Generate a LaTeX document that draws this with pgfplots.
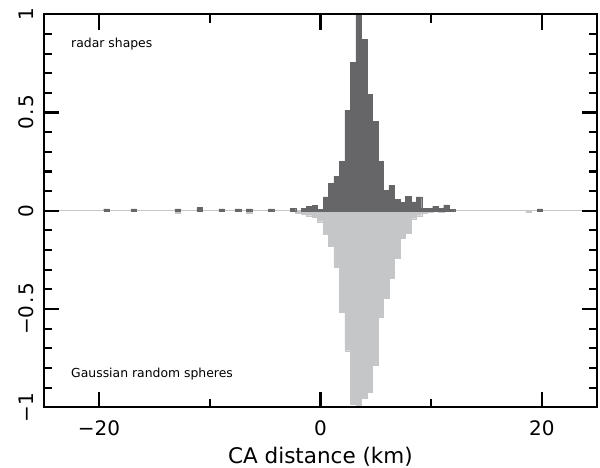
\documentclass[border=0pt]{standalone}
\usepackage{pgfplots}
\pgfplotsset{compat=1.18}
\usepackage{pgfplotstable}
\usepackage{fontspec}
\setmainfont{DejaVu Sans}
\definecolor{darkbar}{RGB}{102,102,104}
\definecolor{lightbar}{RGB}{197,198,200}
% radar shapes (upper histogram), bin centres in km, normalised counts
\pgfplotstableread{
x y
-19.34 0.010
-16.86 0.010
-12.90 0.010
-10.92 0.017
-8.93 0.010
-7.45 0.010
-6.46 0.010
-4.47 0.010
-2.49 0.014
-1.50 0.014
-1.01 0.022
-0.51 0.028
-0.02 0.009
0.48 0.071
0.98 0.140
1.47 0.177
1.97 0.253
2.46 0.512
2.96 0.755
3.45 1.050
3.95 0.874
4.44 0.592
4.94 0.456
5.44 0.253
5.93 0.105
6.43 0.131
6.92 0.059
7.42 0.042
7.91 0.075
8.41 0.045
8.90 0.071
9.40 0.014
9.90 0.012
10.39 0.024
10.89 0.014
11.38 0.030
11.88 0.008
19.81 0.010
}\radar
% Gaussian random spheres (lower histogram, plotted negative)
\pgfplotstableread{
x y
-12.90 -0.010
-6.46 -0.010
-2.00 -0.012
-1.50 -0.017
-1.01 -0.025
-0.51 -0.032
-0.02 -0.055
0.48 -0.119
0.98 -0.180
1.47 -0.288
1.97 -0.516
2.46 -0.712
2.96 -0.984
3.45 -1.050
3.95 -0.952
4.44 -0.921
4.94 -0.786
5.44 -0.543
5.93 -0.445
6.43 -0.341
6.92 -0.239
7.42 -0.139
7.91 -0.114
8.41 -0.040
8.90 -0.025
9.40 -0.012
9.90 -0.006
10.39 -0.004
10.89 -0.009
11.38 -0.003
18.81 -0.008
}\gauss
\begin{document}
\begin{tikzpicture}
\begin{axis}[
  scale only axis, width=553.5bp, height=393bp,
  xmin=-25, xmax=25, ymin=-1, ymax=1,
  axis on top,
  axis line style={line width=2.2bp},
  every tick/.style={black, line width=2.1bp},
  tick align=inside,
  major tick length=15.5bp, minor tick length=8.5bp,
  xtick={-20,0,20}, xticklabels={−20,0,20},
  minor xtick={-10,10},
  ytick={-1,-0.5,0,0.5,1},
  yticklabels={−1,−0\kern1.5bp.\kern1.5bp5,0,0\kern1.5bp.\kern1.5bp5,1},
  minor ytick={-0.9,-0.8,-0.7,-0.6,-0.4,-0.3,-0.2,-0.1,0.1,0.2,0.3,0.4,0.6,0.7,0.8,0.9},
  tick label style={font=\fontsize{20bp}{24bp}\selectfont},
  xticklabel style={anchor=base}, xticklabel shift=28.4bp,
  yticklabel style={rotate=90, anchor=base}, yticklabel shift=10bp,
  xlabel={CA distance (km)},
  xlabel style={at={(axis description cs:0.5,0)}, anchor=base, yshift=-56bp, font=\fontsize{21.5bp}{26bp}\selectfont},
]
\addplot[lightbar, line width=0.8bp, forget plot] coordinates {(-25,0) (25,0)};
\addplot[ybar, bar width=0.4955, bar shift=0pt, fill=lightbar, draw=lightbar, line width=0.2bp] table {\gauss};
\addplot[ybar, bar width=0.4955, bar shift=0pt, fill=darkbar, draw=darkbar, line width=0.2bp] table {\radar};
\node[anchor=base west, inner sep=0pt, font=\fontsize{12.4bp}{15bp}\selectfont] at (axis cs:-22.53,0.833) {radar shapes};
\node[anchor=base west, inner sep=0pt, font=\fontsize{12.4bp}{15bp}\selectfont] at (axis cs:-22.53,-0.849) {Gaussian random spheres};
\end{axis}
\pgfresetboundingbox
\path ([shift={(-43.7bp,-60.7bp)}]current axis.south west) rectangle ([shift={(2.8bp,14.3bp)}]current axis.north east);
\end{tikzpicture}
\end{document}
